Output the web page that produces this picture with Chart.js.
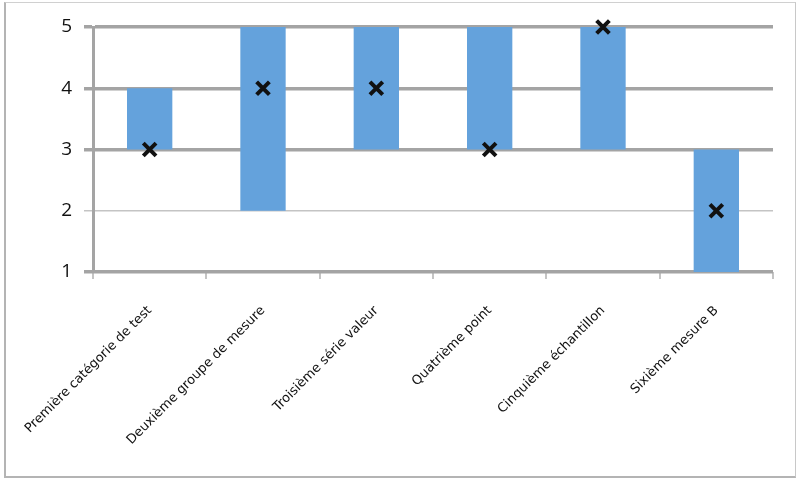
<!DOCTYPE html>
<html>
<head>
<meta charset="utf-8">
<script src="https://cdn.jsdelivr.net/npm/chart.js@4/dist/chart.umd.min.js"></script>
<style>
  body { margin: 0; background: #fff; }
  #frame { position: absolute; left: 4px; top: 2px; width: 789px; height: 473px;
           border: 2px solid #b4b4b4; border-top: 1px solid #d0d0d0; border-right: 1px solid #c8c8c8; }
  canvas { position: absolute; left: 0; top: 0; }
</style>
</head>
<body>
<div id="frame"></div>
<canvas id="chart" width="798" height="480"></canvas>
<script>
// categories (illegible in the source, placeholder text of similar length)
const categories = [
  'Première catégorie de test',
  'Deuxième groupe de mesure',
  'Troisième série valeur',
  'Quatrième point',
  'Cinquième échantillon',
  'Sixième mesure B'
];
const lowValues = [3, 2, 3, 3, 3, 1];
const highValues = [4, 5, 5, 5, 5, 3];
const markValues = [3, 4, 4, 3, 5, 2];
const yTicks = [1, 2, 3, 4, 5];

const ranges = lowValues.map((lo, i) => [lo, highValues[i]]);

const ctx = document.getElementById('chart').getContext('2d');
new Chart(ctx, {
  type: 'bar',
  data: {
    labels: categories,
    datasets: [
      {
        type: 'line',
        data: markValues,
        showLine: false,
        pointStyle: 'crossRot',
        pointRadius: 9,
        pointBorderWidth: 4,
        pointBorderColor: '#111',
        pointBackgroundColor: '#111',
        clip: false,
        order: 0
      },
      {
        data: ranges,
        backgroundColor: '#64a2dc',
        borderWidth: 0,
        borderSkipped: false,
        categoryPercentage: 1,
        barPercentage: 0.4,
        order: 1
      }
    ]
  },
  options: {
    responsive: false,
    animation: false,
    devicePixelRatio: 1,
    layout: { padding: { top: 27, right: 25, left: 0, bottom: 0 } },
    plugins: { legend: { display: false }, tooltip: { enabled: false } },
    scales: {
      x: {
        offset: true,
        grid: { drawOnChartArea: false, color: '#c4c4c4', tickLength: 7, lineWidth: 2 },
        border: { display: false },
        ticks: {
          color: '#111',
          font: { family: 'DejaVu Sans', size: 13 },
          minRotation: 45,
          maxRotation: 45,
          padding: 24,
          autoSkip: false
        },
        afterFit: (axis) => {
          axis.height = 208;
          axis.paddingLeft = 0;
          axis.paddingRight = 0;
        }
      },
      y: {
        min: 1,
        max: 5,
        afterBuildTicks: (axis) => { axis.ticks = yTicks.map(v => ({ value: v })); },
        grid: {
          color: (c) => c.tick && c.tick.value === 2 ? '#c4c4c4' : '#a4a4a4',
          lineWidth: (c) => c.tick && c.tick.value === 2 ? 1.5 : 3.5,
          tickLength: 9
        },
        border: { color: '#a4a4a4', width: 3 },
        ticks: {
          color: '#111',
          font: { family: 'Open Sans', size: 19 },
          padding: 12
        },
        afterFit: (axis) => { axis.width = 93; }
      }
    }
  }
});
</script>
</body>
</html>
